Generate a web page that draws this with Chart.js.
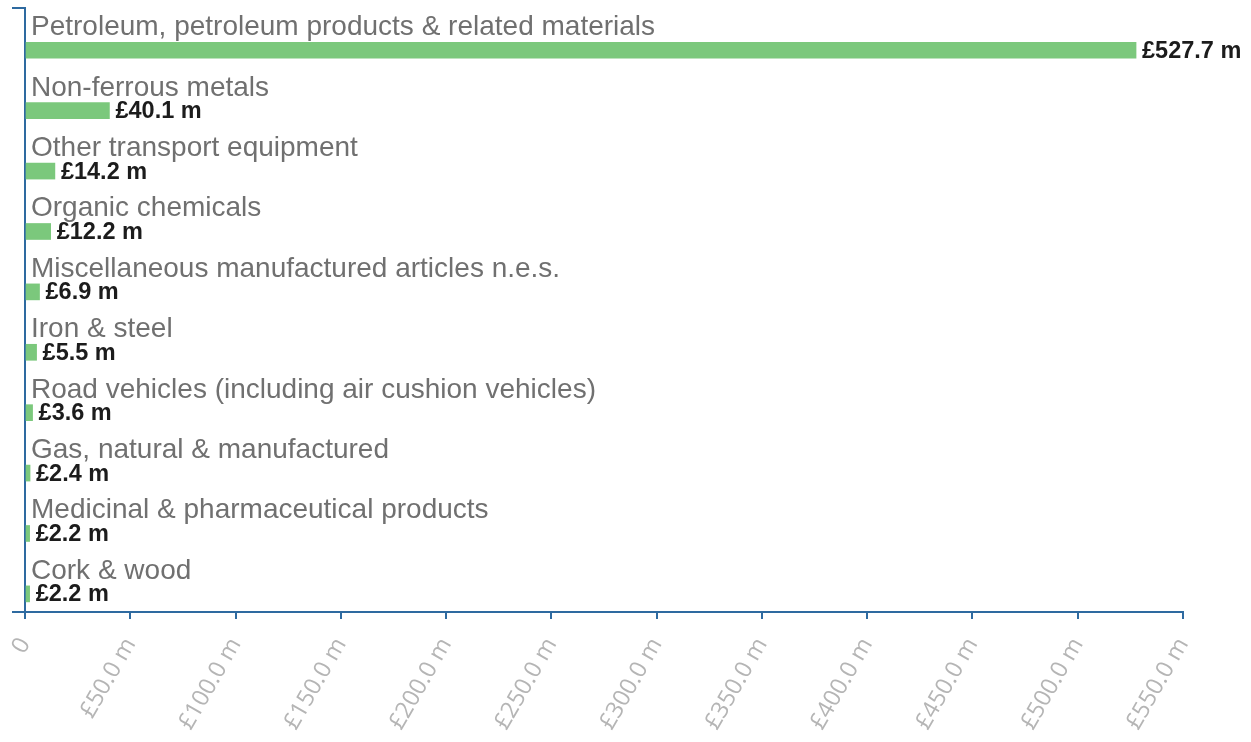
<!DOCTYPE html>
<html>
<head>
<meta charset="utf-8">
<script src="https://cdn.jsdelivr.net/npm/chart.js@4.4.0/dist/chart.umd.min.js"></script>
<style>
    body { margin: 0; background: #fff; }
    #grafico { display: block; }
</style>
</head>
<body>
<canvas id="grafico" width="1251" height="742"></canvas>
<script>
var categorias = [
    'Petroleum, petroleum products & related materials',
    'Non-ferrous metals',
    'Other transport equipment',
    'Organic chemicals',
    'Miscellaneous manufactured articles n.e.s.',
    'Iron & steel',
    'Road vehicles (including air cushion vehicles)',
    'Gas, natural & manufactured',
    'Medicinal & pharmaceutical products',
    'Cork & wood'
]
var valores = [527.7, 40.1, 14.2, 12.2, 6.9, 5.5, 3.6, 2.4, 2.2, 2.2]
var ticksX = [0, 50, 100, 150, 200, 250, 300, 350, 400, 450, 500, 550]

var azul = '#2e6aa0'
var verde = '#7bc87c'

function formatar(v) {
    return '£' + v.toFixed(1) + ' m'
}

// rotulos em cima de cada barra e valor na ponta
var rotulos = {
    id: 'rotulos',
    afterDatasetsDraw(chart) {
        var ctx = chart.ctx
        var meta = chart.getDatasetMeta(0)
        var area = chart.chartArea
        ctx.save()
        meta.data.forEach((bar, i) => {
            ctx.textAlign = 'left'
            ctx.textBaseline = 'alphabetic'
            ctx.fillStyle = '#707070'
            ctx.font = '28px "Liberation Sans", Arial, sans-serif'
            ctx.fillText(categorias[i], area.left + 6, bar.y - 15)

            ctx.textBaseline = 'middle'
            ctx.fillStyle = '#1c1c1c'
            ctx.font = 'bold 23.5px "Liberation Sans", Arial, sans-serif'
            ctx.fillText(formatar(valores[i]), bar.x + 6, bar.y + 1)
        })
        ctx.restore()
    }
}

var dados = valores.map((v, i) => {
    return { x: v, y: i }
})

new Chart(document.querySelector('#grafico'), {
    type: 'bar',
    data: {
        datasets: [{
            data: dados,
            backgroundColor: verde,
            borderWidth: 0,
            barThickness: 16
        }]
    },
    plugins: [rotulos],
    options: {
        indexAxis: 'y',
        responsive: false,
        animation: false,
        layout: {
            padding: { left: 12, right: 68, top: 8, bottom: 0 }
        },
        plugins: {
            legend: { display: false },
            tooltip: { enabled: false }
        },
        scales: {
            y: {
                type: 'linear',
                reverse: true,
                offset: false,
                min: -0.7,
                max: categorias.length - 0.7,
                afterBuildTicks(scale) {
                    scale.ticks = [{ value: scale.min }, { value: scale.max }]
                },
                ticks: { display: false },
                grid: {
                    offset: false,
                    drawOnChartArea: false,
                    drawTicks: true,
                    tickLength: 13,
                    color: azul,
                    lineWidth: 2
                },
                border: { display: true, color: azul, width: 2 }
            },
            x: {
                type: 'linear',
                min: 0,
                max: 550,
                afterBuildTicks(scale) {
                    scale.ticks = ticksX.map(v => ({ value: v }))
                },
                afterFit(scale) {
                    scale.height = 130
                },
                ticks: {
                    color: '#b5b5b5',
                    font: { family: '"Open Sans", sans-serif', size: 23.5 },
                    minRotation: 60,
                    maxRotation: 60,
                    padding: 14,
                    callback: v => v === 0 ? '0' : formatar(v)
                },
                grid: {
                    drawOnChartArea: false,
                    drawTicks: true,
                    tickLength: 7,
                    color: azul,
                    lineWidth: 2
                },
                border: { display: true, color: azul, width: 2 }
            }
        }
    }
})
</script>
</body>
</html>
